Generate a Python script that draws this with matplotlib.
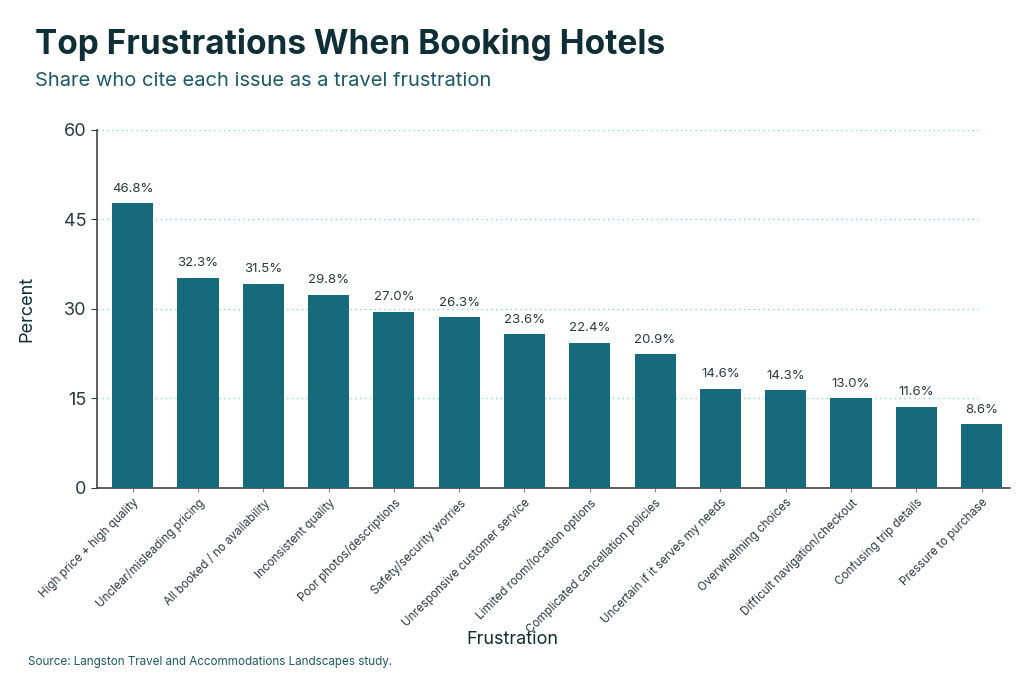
import matplotlib
matplotlib.use("Agg")
import matplotlib.pyplot as plt
import matplotlib.transforms as mtransforms
import numpy as np

# Données (hauteur des barres) + étiquettes affichées
categories = [
    "High price + high quality",
    "Unclear/misleading pricing",
    "All booked / no availability",
    "Inconsistent quality",
    "Poor photos/descriptions",
    "Safety/security worries",
    "Unresponsive customer service",
    "Limited room/location options",
    "Complicated cancellation policies",
    "Uncertain if it serves my needs",
    "Overwhelming choices",
    "Difficult navigation/checkout",
    "Confusing trip details",
    "Pressure to purchase",
]
values = [47.7, 35.2, 34.2, 32.4, 29.5, 28.6, 25.8, 24.3, 22.4, 16.6, 16.4, 15.0, 13.6, 10.6]
labels = ["46.8%", "32.3%", "31.5%", "29.8%", "27.0%", "26.3%", "23.6%",
          "22.4%", "20.9%", "14.6%", "14.3%", "13.0%", "11.6%", "8.6%"]
yticks = [0, 15, 30, 45, 60]

BAR = "#176a7b"
DARK = "#0f2e36"
TEAL = "#1d5866"
GRID = "#7fd9e3"
TXT = "#2b3a40"

plt.rcParams['font.family'] = ['Inter', 'DejaVu Sans']

fig = plt.figure(figsize=(10.24, 6.83), dpi=100)
ax = fig.add_axes([0.0947, 0.286, 0.8913, 0.5237])

x = np.arange(len(categories))
ax.bar(x, values, width=0.63, color=BAR, zorder=3)

for xi, v, lab in zip(x, values, labels):
    ax.annotate(lab, (xi, v), xytext=(0, 6), textcoords="offset points",
                ha="center", va="bottom", fontsize=9.5, color=TXT, zorder=4)

for t in yticks[1:]:
    ax.axhline(t, xmin=0, xmax=0.965, color=GRID, linestyle=(0, (1, 2.5)),
               linewidth=1, zorder=1)

ax.set_xlim(-0.547, 13.43)
ax.set_ylim(0, 60)
ax.set_yticks(yticks)
ax.set_xticks(x)
ax.set_xticklabels(categories, rotation=45, ha="right", rotation_mode="anchor",
                   fontsize=8.4, color=TXT)
# petit décalage vers la droite des étiquettes inclinées
shift = mtransforms.ScaledTranslation(6 / 72, 0, fig.dpi_scale_trans)
for lab in ax.get_xticklabels():
    lab.set_transform(lab.get_transform() + shift)
ax.tick_params(axis="y", labelsize=13, colors=TXT, length=4)
ax.tick_params(axis="x", length=3, colors="#888888", labelcolor=TXT)

for s in ["top", "right"]:
    ax.spines[s].set_visible(False)
for s in ["left", "bottom"]:
    ax.spines[s].set_color("#444444")
    ax.spines[s].set_linewidth(1.2)

ax.set_ylabel("Percent", fontsize=13, color=DARK)
ax.yaxis.set_label_coords(-0.068, 0.5)
ax.set_xlabel("Frustration", fontsize=13, color=DARK)
ax.xaxis.set_label_coords(0.455, -0.40)

fig.text(0.034, 0.935, "Top Frustrations When Booking Hotels", fontsize=24,
         fontweight="bold", color=DARK, va="center")
fig.text(0.034, 0.881, "Share who cite each issue as a travel frustration",
         fontsize=14.5, color=TEAL, va="center")
fig.text(0.027, 0.031, "Source: Langston Travel and Accommodations Landscapes study.",
         fontsize=8.4, color=TEAL, va="center")

fig.savefig("out.png", dpi=100)
